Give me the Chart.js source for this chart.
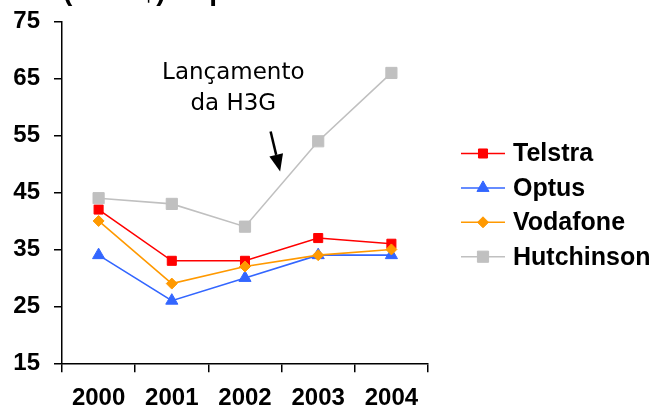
<!DOCTYPE html>
<html>
<head>
<meta charset="utf-8">
<script src="https://cdn.jsdelivr.net/npm/chart.js@4/dist/chart.umd.min.js"></script>
<style>
  html, body { margin: 0; padding: 0; background: #fff; }
  #wrap { width: 653px; height: 407px; position: relative; }
</style>
</head>
<body>
<div id="wrap"><canvas id="c" width="653" height="407"></canvas></div>
<script>
const categories = ['2000', '2001', '2002', '2003', '2004'];
const seriesNames = ['Telstra', 'Optus', 'Vodafone', 'Hutchinson'];
const telstra = [42, 33, 33, 37, 36];
const optus = [34, 26, 30, 34, 34];
const vodafone = [40, 29, 32, 34, 35];
const hutchinson = [44, 43, 39, 54, 66];
const yTicks = [15, 25, 35, 45, 55, 65, 75];
const titleText = 'ARPU (em A$) — por cliente';
const noteLines = ['Lançamento', 'da H3G'];

const TICK_FONT = { family: '"Liberation Sans", Arial, sans-serif', size: 24, weight: 'bold' };

const titlePlugin = {
  id: 'cutTitle',
  afterDraw(chart) {
    const ctx = chart.ctx;
    ctx.save();
    ctx.font = 'bold 28px "Liberation Sans", Arial, sans-serif';
    ctx.fillStyle = '#000';
    ctx.textBaseline = 'alphabetic';
    ctx.textAlign = 'left';
    const pre = ctx.measureText('ARPU ').width;
    ctx.fillText(titleText, 63 - pre, 0);
    ctx.restore();
  }
};

const notePlugin = {
  id: 'note',
  afterDraw(chart) {
    const ctx = chart.ctx;
    const xs = chart.scales.x, ys = chart.scales.y;
    ctx.save();
    ctx.fillStyle = '#000';
    ctx.font = '23px "DejaVu Sans", sans-serif';
    ctx.textAlign = 'center';
    ctx.textBaseline = 'alphabetic';
    const cx = xs.getPixelForValue(1.84);
    ctx.fillText(noteLines[0], cx, ys.getPixelForValue(65.0));
    ctx.fillText(noteLines[1], cx, ys.getPixelForValue(59.5));
    // arrow
    const x1 = xs.getPixelForValue(2.35), y1 = ys.getPixelForValue(55.7);
    const x2 = xs.getPixelForValue(2.48), y2 = ys.getPixelForValue(48.7);
    const ang = Math.atan2(y2 - y1, x2 - x1);
    const headLen = 17, headW = 7;
    const bx = x2 - headLen * Math.cos(ang), by = y2 - headLen * Math.sin(ang);
    ctx.strokeStyle = '#000';
    ctx.lineWidth = 2.5;
    ctx.beginPath();
    ctx.moveTo(x1, y1);
    ctx.lineTo(bx, by);
    ctx.stroke();
    ctx.beginPath();
    ctx.moveTo(x2, y2);
    ctx.lineTo(bx + headW * Math.sin(ang), by - headW * Math.cos(ang));
    ctx.lineTo(bx - headW * Math.sin(ang), by + headW * Math.cos(ang));
    ctx.closePath();
    ctx.fill();
    ctx.restore();
  }
};

const legendPlugin = {
  id: 'sideLegend',
  afterDraw(chart) {
    const ctx = chart.ctx;
    const ds = chart.data.datasets;
    ctx.save();
    ds.forEach((d, i) => {
      const y = 153.5 + i * 34.4;
      ctx.strokeStyle = d.borderColor;
      ctx.lineWidth = 1.5;
      ctx.beginPath();
      ctx.moveTo(461, y);
      ctx.lineTo(505, y);
      ctx.stroke();
      ctx.fillStyle = d.backgroundColor;
      ctx.strokeStyle = d.borderColor;
      ctx.lineWidth = 1;
      Chart.helpers.drawPoint(ctx, {
        pointStyle: d.pointStyle,
        radius: d.pointRadius,
        borderWidth: 1,
        rotation: 0
      }, 483, y);
      ctx.fillStyle = '#000';
      ctx.font = 'bold 25px "Liberation Sans", Arial, sans-serif';
      ctx.textAlign = 'left';
      ctx.textBaseline = 'middle';
      ctx.fillText(d.label, 513, y + 1);
    });
    ctx.restore();
  }
};

function mkSet(label, data, color, style, radius, order) {
  return {
    label, data,
    borderColor: color,
    backgroundColor: color,
    pointBackgroundColor: color,
    pointBorderColor: color,
    pointStyle: style,
    pointRadius: radius,
    pointHoverRadius: radius,
    pointBorderWidth: 1,
    borderWidth: 1.6,
    tension: 0,
    fill: false,
    order
  };
}

new Chart(document.getElementById('c'), {
  type: 'line',
  data: {
    labels: categories,
    datasets: [
      mkSet(seriesNames[0], telstra, '#FF0000', 'rect', 6.4, 4),
      mkSet(seriesNames[1], optus, '#3366FF', 'triangle', 7, 3),
      mkSet(seriesNames[2], vodafone, '#FF9900', 'rectRot', 5.5, 2),
      mkSet(seriesNames[3], hutchinson, '#C0C0C0', 'rect', 7.9, 1)
    ]
  },
  options: {
    responsive: false,
    animation: false,
    devicePixelRatio: 1,
    layout: { padding: { top: 21.7, right: 225, bottom: 0, left: 0 } },
    plugins: {
      legend: { display: false },
      tooltip: { enabled: false },
      title: { display: false }
    },
    scales: {
      x: {
        type: 'category',
        offset: true,
        grid: { offset: true, drawOnChartArea: false, drawTicks: true, tickLength: 9, color: '#000', lineWidth: 1.5 },
        border: { display: true, color: '#000', width: 1.5 },
        ticks: { color: '#000', font: TICK_FONT, padding: 12, maxRotation: 0, autoSkip: false },
        afterFit(scale) { scale.height = 43.7; scale.paddingLeft = 0; scale.paddingRight = 0; }
      },
      y: {
        type: 'linear',
        min: 15, max: 75,
        afterBuildTicks(scale) { scale.ticks = yTicks.map(v => ({ value: v })); },
        grid: { drawOnChartArea: false, drawTicks: true, tickLength: 8, color: '#000', lineWidth: 1.5 },
        border: { display: true, color: '#000', width: 1.5 },
        ticks: { color: '#000', font: TICK_FONT, padding: 14 },
        afterFit(scale) { scale.width = 62; scale.paddingTop = 0; scale.paddingBottom = 0; }
      }
    }
  },
  plugins: [titlePlugin, notePlugin, legendPlugin]
});
</script>
</body>
</html>
